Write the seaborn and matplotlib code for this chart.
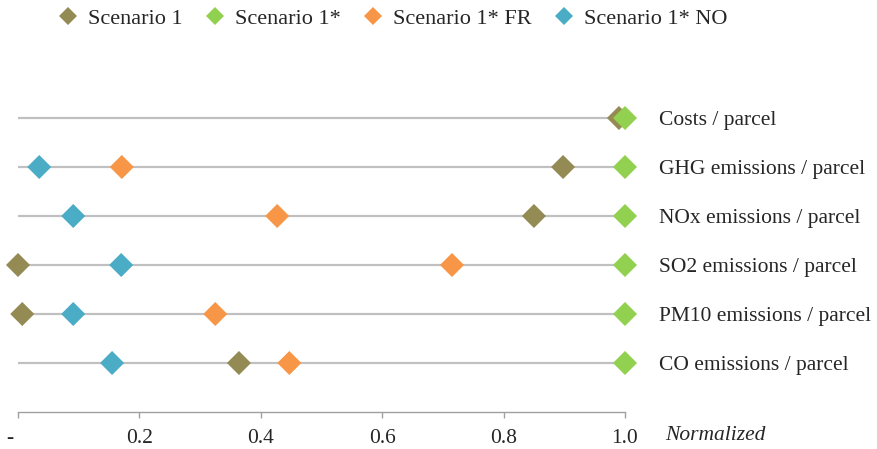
import numpy as np
import pandas as pd
import matplotlib
matplotlib.use("Agg")
import matplotlib.pyplot as plt
import matplotlib.transforms as mtransforms
from matplotlib.lines import Line2D
import seaborn as sns

# Indicators (top to bottom) and normalized results per scenario
indicators = ["Costs / parcel", "GHG emissions / parcel", "NOx emissions / parcel",
              "SO2 emissions / parcel", "PM10 emissions / parcel", "CO emissions / parcel"]
scenario_1 = [0.99, 0.898, 0.850, 0.000, 0.007, 0.364]
scenario_1s = [1.0, 1.0, 1.0, 1.0, 1.0, 1.0]
scenario_1s_fr = [np.nan, 0.171, 0.427, 0.715, 0.325, 0.447]
scenario_1s_no = [np.nan, 0.035, 0.091, 0.170, 0.091, 0.155]

series_names = ["Scenario 1", "Scenario 1*", "Scenario 1* FR", "Scenario 1* NO"]
series_colors = ["#948A54", "#92D050", "#F79646", "#4BACC6"]
tick_values = [0.0, 0.2, 0.4, 0.6, 0.8, 1.0]
tick_labels = ["-", "0.2", "0.4", "0.6", "0.8", "1.0"]

sns.set_style("white")
plt.rcParams["font.family"] = ["Liberation Serif", "DejaVu Serif"]

df = pd.DataFrame({
    "indicator": indicators * 4,
    "pos": list(range(len(indicators))) * 4,
    "scenario": sum([[n] * len(indicators) for n in series_names], []),
    "value": scenario_1 + scenario_1s + scenario_1s_fr + scenario_1s_no,
})

fig = plt.figure(figsize=(8.78, 4.49), dpi=100)
ax = fig.add_axes([18 / 878, 1 - 412 / 449, (625 - 18) / 878, (412 - 69) / 449])

# Light guide line for each indicator, spanning the full normalized range
ax.hlines(range(len(indicators)), 0, 1, color="#C0C0C0", lw=1.6, zorder=1)

# Draw order keeps the green reference series on top
order = [0, 2, 3, 1]
for z, i in enumerate(order):
    sub = df[df["scenario"] == series_names[i]].dropna()
    sns.scatterplot(data=sub, x="value", y="pos", ax=ax, marker="D", s=150,
                    color=series_colors[i], edgecolor="none", zorder=3 + z,
                    clip_on=False, legend=False)

ax.set_xlim(0, 1)
ax.set_ylim(len(indicators), -1)
ax.set_xticks(tick_values)
ax.set_xticklabels(tick_labels, fontsize=15.5)
ax.set_yticks(range(len(indicators)))
ax.set_yticklabels(indicators, fontsize=15.5)
ax.yaxis.tick_right()
ax.tick_params(axis="y", length=0, pad=24.5)
ax.tick_params(axis="x", length=4, width=1, color="#A0A0A0", pad=8, direction="out")
ax.xaxis.set_ticks_position("bottom")
ax.set_xlabel("")
ax.set_ylabel("")
for side in ["top", "left", "right"]:
    ax.spines[side].set_visible(False)
ax.spines["bottom"].set_color("#A0A0A0")
ax.spines["bottom"].set_linewidth(1)

# The zero label sits slightly left of its tick
zero_label = ax.get_xticklabels()[0]
zero_label.set_transform(zero_label.get_transform()
                         + mtransforms.ScaledTranslation(-0.08, 0, fig.dpi_scale_trans))

fig.text(665 / 878, 1 - 436 / 449, "Normalized", fontsize=15.5, style="italic",
         ha="left", va="center")

handles = [Line2D([], [], marker="D", linestyle="none", color=c, markersize=9.5,
                  markeredgewidth=0) for c in series_colors]
fig.legend(handles, series_names, loc="center left", bbox_to_anchor=(55 / 878, 1 - 19 / 449),
           ncol=4, frameon=False, fontsize=16, handletextpad=0.3, columnspacing=0.85,
           handlelength=1.2, borderaxespad=0, borderpad=0)

fig.savefig("out.png", dpi=100)
